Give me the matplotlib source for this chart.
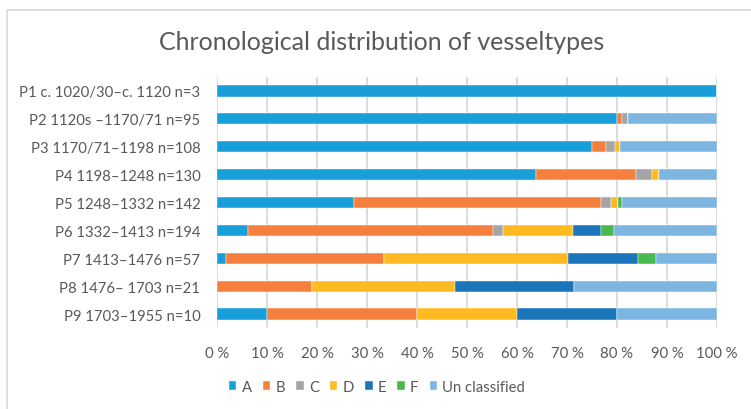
import numpy as np
import matplotlib.pyplot as plt
from matplotlib.patches import Rectangle

plt.rcParams['font.family'] = ['Lato', 'DejaVu Sans']

periods = ["P1 c. 1020/30\u2013c. 1120", "P2 1120s \u20131170/71", "P3 1170/71\u20131198",
           "P4 1198\u20131248", "P5 1248\u20131332", "P6 1332\u20131413",
           "P7 1413\u20131476", "P8 1476\u2013 1703", "P9 1703\u20131955"]
n_total = [3, 95, 108, 130, 142, 194, 57, 21, 10]

types = ["A", "B", "C", "D", "E", "F", "Un classified"]
# vessel counts per period, one list per type
count_a = [3, 76, 81, 83, 39, 12, 1, 0, 1]
count_b = [0, 1, 3, 26, 70, 95, 18, 4, 3]
count_c = [0, 1, 2, 4, 3, 4, 0, 0, 0]
count_d = [0, 0, 1, 2, 2, 27, 21, 6, 2]
count_e = [0, 0, 0, 0, 0, 11, 8, 5, 2]
count_f = [0, 0, 0, 0, 1, 5, 2, 0, 0]
count_u = [0, 17, 21, 15, 27, 40, 7, 6, 2]

colors = ["#189FDA", "#F5803E", "#A5A5A5", "#FFBA22", "#1B75BB", "#47B94F", "#7CB6E0"]
grey = "#595959"

counts = np.array([count_a, count_b, count_c, count_d, count_e, count_f, count_u], dtype=float)
share = counts / np.array(n_total, dtype=float) * 100

labels = [f"{p} n={n}" for p, n in zip(periods, n_total)]
y = np.arange(len(labels))

fig = plt.figure(figsize=(7.51, 4.10), dpi=100)
ax = fig.add_axes([217 / 751, 1 - 329 / 410, 500 / 751, 251 / 410])

left = np.zeros(len(labels))
for t, vals, c in zip(types, share, colors):
    ax.barh(y, vals, left=left, height=0.4, color=c, label=t,
            edgecolor="white", linewidth=0.3, zorder=3)
    left += vals

ax.set_xlim(0, 100)
ax.set_ylim(len(labels) - 0.5, -0.5)
ax.set_yticks(y)
ax.set_yticklabels(labels, fontsize=10.7, color=grey)
ax.set_xticks(np.arange(0, 101, 10))
ax.set_xticklabels([f"{v} %" for v in range(0, 101, 10)], fontsize=10.7, color=grey)
ax.tick_params(length=0, pad=13, axis="x")
ax.tick_params(length=0, pad=12, axis="y")
ax.grid(axis="x", color="#D9D9D9", linewidth=1.3, zorder=0)
for s in ax.spines.values():
    s.set_visible(False)

fig.text(382 / 751, 1 - 42 / 410, "Chronological distribution of vesseltypes",
         ha="center", va="center", fontsize=18, color=grey)

leg = fig.legend(loc="center", bbox_to_anchor=(377 / 751, 1 - 388 / 410), ncol=7,
                 frameon=False, fontsize=10.7, handlelength=0.5, handleheight=0.5,
                 handletextpad=0.35, columnspacing=0.75, borderpad=0)
for txt in leg.get_texts():
    txt.set_color(grey)

# chart frame
fig.patches.append(Rectangle((7 / 751, -0.1), 1.2, 1 - 11 / 410 + 0.1,
                             transform=fig.transFigure, fill=False,
                             edgecolor="#D9D9D9", linewidth=1.2))

fig.savefig("out.png", dpi=100)
